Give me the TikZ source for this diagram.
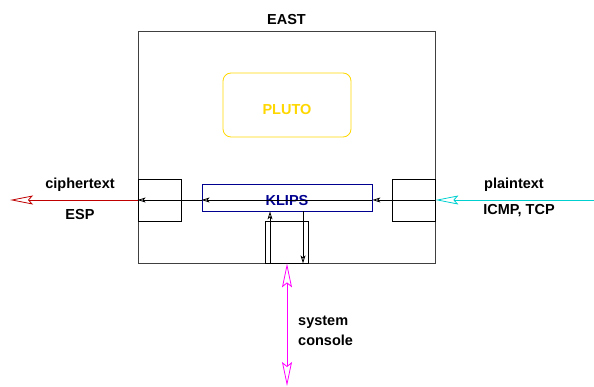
\documentclass[tikz,border=0pt]{standalone}
\usepackage{fontspec}
\setmainfont{Liberation Sans}
\usetikzlibrary{arrows.meta}
\definecolor{cred}{HTML}{C00000}
\definecolor{ccyan}{HTML}{00D0D0}
\definecolor{cmag}{HTML}{FF00FF}
\definecolor{cgold}{HTML}{FFD700}
\definecolor{cnavy}{HTML}{000090}
\begin{document}
\begin{tikzpicture}[x=1pt,y=-1pt,
  box/.style={draw, line width=0.8pt, inner sep=0pt},
  lbl/.style={font=\fontsize{14.5}{16}\selectfont\bfseries, inner sep=0pt},
  bigtip/.style={-{Stealth[open,length=23pt,width=9pt,inset=4pt]}},
  smalltip/.style={-{Stealth[open,length=8pt,width=5pt,inset=2pt]}},
  flow/.style={line width=0.8pt}]
\useasboundingbox (0,0) rectangle (594,387);
\node[box, draw=black!75, minimum width=297pt, minimum height=232pt] (east) at (286.5,147) {};
\node[lbl] (eastlbl) at (286.5,20) {EAST};
\node[box, draw=cgold, rounded corners=8pt, minimum width=128pt, minimum height=64pt] (pluto) at (287,105) {};
\node[lbl, text=cgold] (plutolbl) at (287,110) {PLUTO};
\node[box, minimum width=43pt, minimum height=42pt] (lbox) at (159.5,200) {};
\node[box, minimum width=43pt, minimum height=42pt] (rbox) at (413.5,200) {};
\node[box, draw=cnavy, minimum width=170pt, minimum height=27pt] (klips) at (287,197.5) {};
\node[lbl, text=cnavy] (klipslbl) at (287,200.5) {KLIPS};
\node[box, minimum width=43pt, minimum height=42pt] (cbox) at (286.5,242) {};
\coordinate (lout) at (10,200);
\coordinate (rin) at (594,200);
\coordinate (bot) at (287,386);
% flows
\draw[flow, ccyan, bigtip] (rin) -- (rbox.east);
\draw[flow, smalltip] (rbox.east) -- (rbox.east -| klips.east);
\draw[flow, smalltip] (rbox.east -| klips.east) -- (rbox.east -| klips.west);
\draw[flow, smalltip] (rbox.east -| klips.west) -- (lbox.west);
\draw[flow, cred, bigtip] (lbox.west) -- (lout);
\draw[flow, smalltip] ([xshift=-16.5pt]cbox.south) -- ([xshift=-17pt]klips.south);
\draw[flow, smalltip] ([xshift=16pt]klips.south) -- ([xshift=16.5pt]cbox.south);
\draw[flow, cmag, {Stealth[open,length=24pt,width=10pt,inset=4pt]}-{Stealth[open,length=24pt,width=10pt,inset=4pt]}] ([xshift=0.5pt]cbox.south) -- (bot);
% labels
\node[lbl] (ct) at (80,185) {ciphertext};
\node[lbl] (esp) at (80,215) {ESP};
\node[lbl] (pt) at (514,185) {plaintext};
\node[lbl] (icmp) at (519,211) {ICMP, TCP};
\node[lbl, anchor=west] (sys) at (298,322) {system};
\node[lbl, anchor=west] (con) at (298,340) {console};
\end{tikzpicture}
\end{document}
